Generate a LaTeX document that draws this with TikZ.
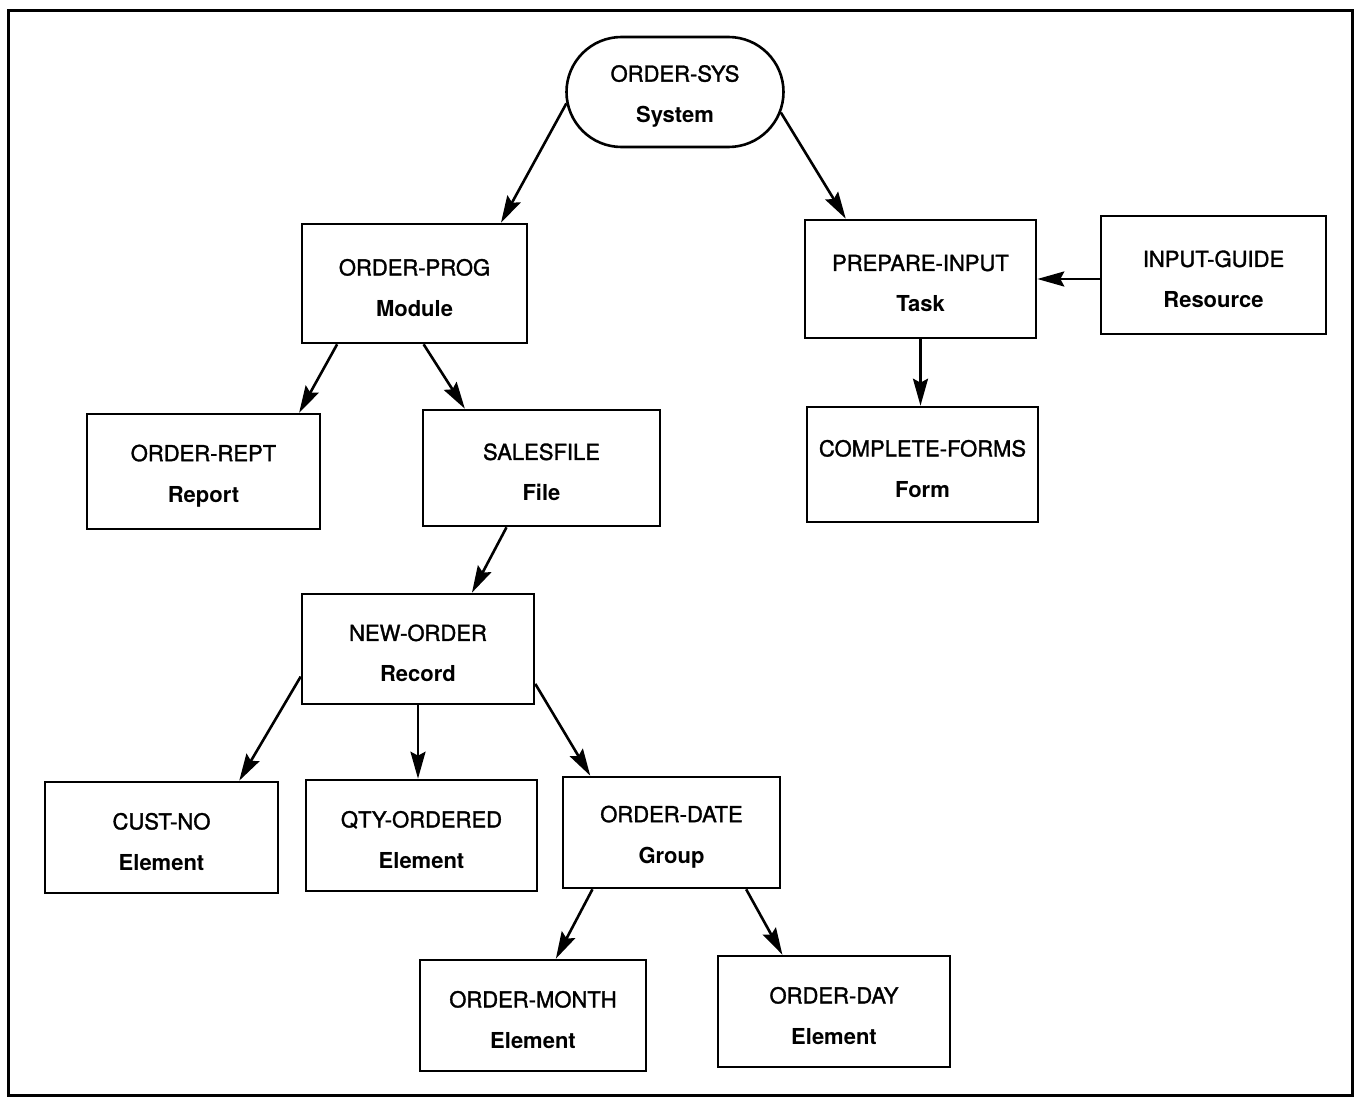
\documentclass[tikz,border=0pt]{standalone}
\usepackage{fontspec}
\setmainfont{TeX Gyre Heros}
\newfontfamily\namefont{TeX Gyre Heros}[FakeBold=1.5]
\usetikzlibrary{shapes.misc,arrows.meta,calc}
% two-line label: name on top, kind below in bold
\newcommand\twolines[2]{{\namefont\rule{0pt}{25pt}#1}\\[16pt]{\bfseries #2}}
\begin{document}
\begin{tikzpicture}[x=1pt,y=-1pt,
  box/.style={draw,line width=2.6pt,align=center,inner sep=0pt,
              font=\fontsize{22}{25}\selectfont},
  arr/.style={line width=2.6pt,-{Stealth[length=27pt,width=15pt,inset=4pt]}}]
\useasboundingbox (0,0) rectangle (1358,1097);
\draw[line width=3pt] (8,11) rectangle (1352,1095);

% nodes
\node[box,rounded rectangle,minimum width=217pt,minimum height=110pt] (sys) at (675,92) {\twolines{ORDER-SYS}{System}};
\node[box,minimum width=225pt,minimum height=119pt] (prog) at (414.5,283.5) {\twolines{ORDER-PROG}{Module}};
\node[box,minimum width=231pt,minimum height=118pt] (prep) at (920.5,279) {\twolines{PREPARE-INPUT}{Task}};
\node[box,minimum width=225pt,minimum height=118pt] (guide) at (1213.5,275) {\twolines{INPUT-GUIDE}{Resource}};
\node[box,minimum width=233pt,minimum height=115pt] (rept) at (203.5,471.5) {\twolines{ORDER-REPT}{Report}};
\node[box,minimum width=237pt,minimum height=116pt] (sales) at (541.5,468) {\twolines{SALESFILE}{File}};
\node[box,minimum width=231pt,minimum height=115pt] (forms) at (922.5,464.5) {\twolines{COMPLETE-FORMS}{Form}};
\node[box,minimum width=232pt,minimum height=110pt] (new) at (418,649) {\twolines{NEW-ORDER}{Record}};
\node[box,minimum width=233pt,minimum height=111pt] (cust) at (161.5,837.5) {\twolines{CUST-NO}{Element}};
\node[box,minimum width=231pt,minimum height=111pt] (qty) at (421.5,835.5) {\twolines{QTY-ORDERED}{Element}};
\node[box,minimum width=217pt,minimum height=111pt] (date) at (671.5,832.5) {\twolines{ORDER-DATE}{Group}};
\node[box,minimum width=226pt,minimum height=111pt] (month) at (533,1015.5) {\twolines{ORDER-MONTH}{Element}};
\node[box,minimum width=232pt,minimum height=111pt] (day) at (834,1011.5) {\twolines{ORDER-DAY}{Element}};

% connectors
\draw[arr] (sys.186) -- ($(prog.north west)!0.88!(prog.north east)$);
\draw[arr] (sys.-11) -- ($(prep.north west)!0.18!(prep.north east)$);
\draw[arr] ($(prog.south west)!0.16!(prog.south east)$) -- ($(rept.north west)!0.906!(rept.north east)$);
\draw[arr] ($(prog.south west)!0.54!(prog.south east)$) -- ($(sales.north west)!0.18!(sales.north east)$);
\draw[arr] (guide.west |- prep.east) -- (prep.east);
\draw[arr] (prep.south) -- (prep.south |- forms.north);
\draw[arr] ($(sales.south west)!0.354!(sales.south east)$) -- ($(new.north west)!0.73!(new.north east)$);
\draw[arr] ($(new.north west)!0.745!(new.south west)$) -- ($(cust.north west)!0.83!(cust.north east)$);
\draw[arr] (new.south) -- (new.south |- qty.north);
\draw[arr] ($(new.north east)!0.81!(new.south east)$) -- ($(date.north west)!0.13!(date.north east)$);
\draw[arr] ($(date.south west)!0.14!(date.south east)$) -- ($(month.north west)!0.60!(month.north east)$);
\draw[arr] ($(date.south west)!0.84!(date.south east)$) -- ($(day.north west)!0.28!(day.north east)$);
\end{tikzpicture}
\end{document}
